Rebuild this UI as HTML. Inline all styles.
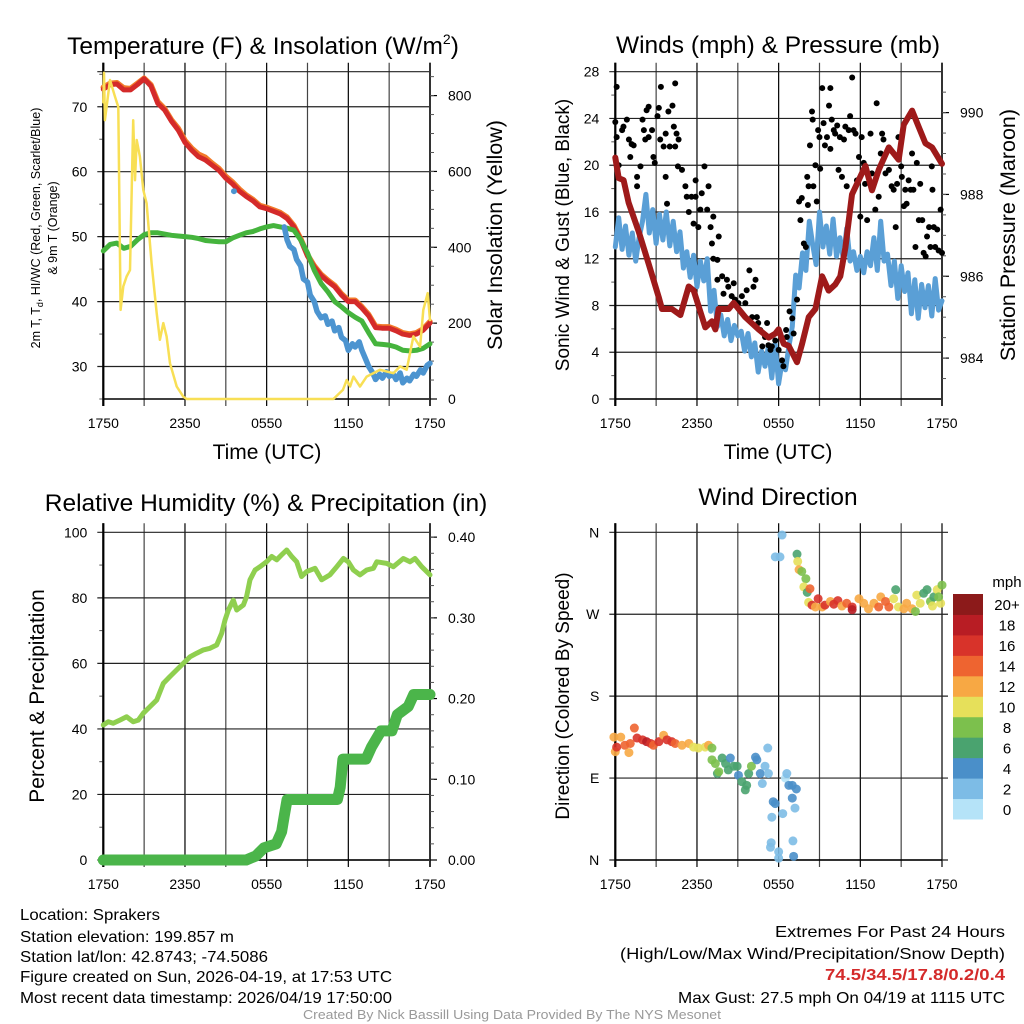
<!DOCTYPE html>
<html><head><meta charset="utf-8"><style>
html,body{margin:0;padding:0;background:#fff;}
svg{display:block;font-family:"Liberation Sans",sans-serif;}
</style></head><body>
<svg id="fig" width="1024" height="1024" viewBox="0 0 1024 1024" xmlns="http://www.w3.org/2000/svg">
<g id="layer"></g>
<g font-size="16" fill="#000">
<text x="20" y="920" textLength="140" lengthAdjust="spacingAndGlyphs">Location: Sprakers</text>
<text x="20" y="942" textLength="214" lengthAdjust="spacingAndGlyphs">Station elevation: 199.857 m</text>
<text x="20" y="962" textLength="248" lengthAdjust="spacingAndGlyphs">Station lat/lon: 42.8743; -74.5086</text>
<text x="20" y="982" textLength="372" lengthAdjust="spacingAndGlyphs">Figure created on Sun, 2026-04-19, at 17:53 UTC</text>
<text x="20" y="1003" textLength="372" lengthAdjust="spacingAndGlyphs">Most recent data timestamp: 2026/04/19 17:50:00</text>
<text x="1005" y="937" text-anchor="end" textLength="230" lengthAdjust="spacingAndGlyphs">Extremes For Past 24 Hours</text>
<text x="1005" y="959" text-anchor="end" textLength="385" lengthAdjust="spacingAndGlyphs">(High/Low/Max Wind/Precipitation/Snow Depth)</text>
<text x="1005" y="980" text-anchor="end" fill="#d42a2a" font-weight="bold" textLength="180" lengthAdjust="spacingAndGlyphs">74.5/34.5/17.8/0.2/0.4</text>
<text x="1005" y="1003" text-anchor="end" textLength="327" lengthAdjust="spacingAndGlyphs">Max Gust: 27.5 mph On 04/19 at 1115 UTC</text>
<text x="512" y="1019" text-anchor="middle" font-size="13" fill="#999" textLength="418" lengthAdjust="spacingAndGlyphs">Created By Nick Bassill Using Data Provided By The NYS Mesonet</text>
</g>
</svg>
<script>
// ---------- DATA ----------
const xTickHours=[0,6,12,18,24];
const xTickLabels=["1750","2350","0550","1150","1750"];
// Temperature panel
const tempHr=[0,0.5,1,1.5,2,2.5,3,3.5,4,4.5,5,5.5,6,6.5,7,7.5,8,8.5,9,9.5,10,10.5,11,11.5,12,12.5,13,13.5,14,14.5,15,15.5,16,16.5,17,17.5,18,18.5,19,19.5,20,20.5,21,21.5,22,22.5,23,23.5,24];
const tempVal=[72.7,73.4,73.5,72.6,72.6,73.4,74.3,73.2,70.5,69.5,67.8,66.4,64.5,63.3,62.3,61.8,61,60.2,59,58.1,57,56.2,55.5,54.6,54.3,53.9,53.5,52.8,51.5,49.5,47,45.3,44,43.1,42.3,41,40,40,39,37.8,36,35.9,35.9,35.5,35,34.8,35,35.6,36.7];
const temp9mVal=[73,73.6,73.7,72.9,72.8,73.6,74.4,73.4,70.8,69.7,68,66.7,64.8,63.6,62.7,62.2,61.3,60.5,59.3,58.4,57.3,56.4,55.7,54.8,54.5,54.1,53.7,53,51.7,49.7,47.2,45.5,44.2,43.3,42.5,41.2,40.2,40.2,39.2,38,36.2,36.1,36.1,35.7,35.2,35,35.2,35.8,36.9];
const dewVal=[47.8,48.8,49,48.2,48.5,49.5,50.3,50.6,50.6,50.4,50.2,50.1,50,49.9,49.7,49.4,49.3,49.2,49.2,49.8,50.2,50.6,50.8,51.2,51.5,51.7,51.5,51.3,51,49.5,47.5,44.8,42.8,41.5,40,39.2,38.3,37.6,37,35.2,33.5,33.4,33.3,33,32.5,32.4,32.5,32.8,33.5];
const chillHr=[13.3,13.5,13.7,14,14.2,14.5,14.7,15,15.2,15.5,15.7,16,16.3,16.5,16.8,17,17.3,17.5,17.8,18,18.3,18.5,18.8,19,19.3,19.5,19.8,20,20.3,20.5,20.8,21,21.3,21.5,21.8,22,22.3,22.5,22.8,23,23.3,23.5,23.8,24];
const chillVal=[51.5,49.5,48.5,48,46.5,45.5,43.5,43,41,40,38.5,37.5,37.8,36.5,37,35.5,36,34.5,34,32.5,33.5,33,33.8,32.5,31,30,29,28,28.8,28.2,29.2,28.5,28.8,28,29,27.5,28.2,27.8,28.8,28.5,29.5,29,30.2,30.5];
const solarHr=[0,0.05,0.12,0.49,0.86,1.1,1.27,1.47,1.71,1.96,2.2,2.33,2.45,2.69,2.94,3.18,3.55,3.92,4.16,4.41,4.65,4.9,5.39,5.88,6.12,12,16.9,17.6,17.88,18.13,18.37,18.86,19.35,20.33,21.31,21.8,22.29,22.78,23.27,23.51,23.83,24];
const solarVal=[782,860,735,841,797,770,235,297,323,340,735,577,683,639,551,516,358,226,156,200,165,94,33,6,0,0,0,24,50,33,59,33,59,77,68,86,77,165,138,235,279,208];
// Winds panel
const windHr=[0,0.25,0.5,0.75,1,1.25,1.5,1.75,2,2.25,2.5,2.75,3,3.25,3.5,3.75,4,4.25,4.5,4.75,5,5.25,5.5,5.75,6,6.25,6.5,6.75,7,7.25,7.5,7.75,8,8.25,8.5,8.75,9,9.25,9.5,9.75,10,10.25,10.5,10.75,11,11.25,11.5,11.75,12,12.25,12.5,12.75,13,13.25,13.5,13.75,14,14.25,14.5,14.75,15,15.25,15.5,15.75,16,16.25,16.5,16.75,17,17.25,17.5,17.75,18,18.25,18.5,18.75,19,19.25,19.5,19.75,20,20.25,20.5,20.75,21,21.25,21.5,21.75,22,22.25,22.5,22.75,23,23.25,23.5,23.75,24];
const windVal=[13,15.5,12.8,14.8,12.3,14.2,11.8,13.8,15.2,17.5,14.2,16.2,13.3,15.8,13.6,16,13.1,15.2,12.6,14.3,11.2,12.6,10.4,12.3,9.6,11.8,10.1,12,7.5,9.3,6.2,7.2,5.4,6.8,5,6.3,5.4,5.8,4.1,5.6,3.6,4.8,2.3,4.1,2.8,4.5,1.8,4.7,1.3,3.2,2.5,4.5,6.2,10.6,9.5,12.5,11,15.2,13.2,11.5,16,13,14.8,12.4,15.4,12.2,13.8,12,14.6,11.8,12.6,11,12.2,10.8,12.6,11.4,13.8,11,15.2,11.8,12.4,9.7,11.8,8.6,11.4,9.2,10.8,7.3,10.2,6.9,9.8,7.8,9.7,7.1,10.3,7.6,8.4];
const pressHr=[0,0.25,0.61,0.98,1.71,2.45,3.18,3.43,4.16,4.78,5.39,5.76,6.61,7.1,7.35,7.59,8.33,8.7,9.55,10.53,11.27,11.76,12,12.37,12.74,13.35,13.72,14.21,14.7,15.19,15.68,16.16,16.53,16.9,17.39,17.88,18.37,18.86,19.35,20.09,20.82,21.19,21.8,22.29,22.78,23.27,24];
const pressVal=[988.9,988.4,988.35,987.8,987.1,986.3,985.5,985.2,985.2,985.05,985.75,985.65,984.75,984.9,984.7,985.2,985.2,985.35,985,984.7,984.5,984.6,984.7,984.35,984.3,983.9,984.35,985,985.2,986,985.65,985.8,986,986.7,988,988.35,988.7,988.1,988.6,989.15,988.85,989.7,990.05,989.65,989.25,989.15,988.75];
const gustHr=[0,0.1,0.1,0.25,0.5,0.6,0.85,1,1.1,1.2,1.35,1.6,1.6,1.85,2,2.1,2.2,2.3,2.45,2.45,2.7,2.8,2.9,3.1,3.2,3.3,3.35,3.55,3.7,3.7,3.8,3.9,4,4.2,4.3,4.4,4.4,4.5,4.65,4.6,4.9,5.15,5.25,5.4,5.6,5.75,5.9,5.9,6.1,6.25,6.35,6.55,6.75,6.85,7,7.2,7.1,7.2,7.5,7.6,7.5,7.85,7.95,8.2,8.3,8.55,8.7,8.8,9.05,9.3,9.55,9.65,9.85,10.05,10.15,10.3,10.4,10.5,10.65,10.8,11,11.15,11.25,11.4,11.5,11.75,12,12.25,12.35,12.55,12.6,12.8,13,13.1,13.35,13.5,13.6,13.7,13.85,14,14.1,14.15,14.2,14.3,14.45,14.5,14.55,14.7,14.8,14.9,15,15.05,15.2,15.3,15.4,15.55,15.7,15.8,15.8,15.9,16.05,16.15,16.3,16.4,16.5,16.65,16.8,16.9,17,17.15,17.25,17.4,17.5,17.65,17.75,17.9,18,18.1,18.25,18.35,18.5,18.75,18.85,19.1,19.2,19.35,19.5,19.6,19.7,19.85,20.1,20.3,20.45,20.6,20.7,20.8,21,21.05,21.2,21.3,21.4,21.55,21.7,21.8,21.9,22.05,22.15,22.3,22.4,22.55,22.65,22.8,22.9,23.05,23.15,23.25,23.3,23.4,23.5,23.65,23.75,23.9,24];
const gustVal=[23.7,26.7,22.4,20,23,23.3,23.9,22.2,20.7,21.8,21.7,19,18.2,19.9,23.9,23,22.2,24.7,25,22.4,23,20.7,20.2,24.2,24.9,22.2,26.7,21.6,22.7,19,16.7,24.6,21.6,25.1,23.3,27,21.6,22.7,22.2,19.9,19.6,18.2,17.3,16,17.3,15,18.7,17.3,14.7,16.2,17.6,19.9,16.2,18.2,14.7,15.6,13.3,12,11.9,13.9,10.2,10.5,9,10.2,9.6,8.8,9.9,8.5,8.2,8.8,8.2,9.3,11,7,9.6,10.2,7,6.5,5.9,4.5,5.3,6.5,4.6,4.2,4.5,5,4.2,3.3,2.8,5.9,5.3,7.5,6.9,5.6,8.5,16.9,15.3,17.2,13.3,13,19,16.6,18.2,21.7,24.6,23.9,18.2,20,16.9,23,22.4,19.7,26.6,23.6,21.7,22.4,25.1,26.6,21.4,23.9,23,22.7,23.4,19.6,22.4,19,22.2,23.3,18.2,23,24.2,27.5,23,22.7,18.7,20.7,15.6,22.4,20.2,18.4,15.3,22.7,19.3,16.2,25.3,17.3,21,22.7,22.2,19.3,19.6,18.2,17.9,14.7,18.4,22.4,19.9,19,16.5,17.9,16.7,18.7,17.9,21,17.9,13,20.2,15.3,18.4,15.3,12.5,12.2,13.9,14.7,13,19.9,17.9,14.7,13,14.5,12.7,16.2,12.5];
// RH & precip panel
const rhHr=[0,0.37,0.73,1.22,1.71,2.2,2.57,2.94,3.43,3.92,4.41,4.9,5.39,5.88,6.37,6.86,7.35,7.84,8.33,8.7,8.94,9.19,9.55,9.8,10.29,10.53,10.78,11.15,11.51,12,12.37,12.74,13.1,13.47,13.84,14.21,14.57,14.94,15.55,16.04,16.65,17.15,17.64,18,18.37,18.86,19.35,19.84,20.09,20.82,21.31,22.04,22.53,22.9,23.39,24];
const rhVal=[41.2,42.2,41.7,42.7,43.7,42.2,42.7,44.8,46.8,48.8,53.9,56,58,60,62,63.1,64.1,64.6,65.6,69.2,73.2,76.3,79.3,76.3,77.8,80.4,85.5,88.5,89.5,91,92.6,91.6,93.1,94.6,92.6,91,86.5,88,89,85.5,87,89.5,92,91,88.5,87,88.5,89,91,90.5,89.5,92,91,92,89.5,87];
const precipHr=[0,10.5,11.2,11.8,12.7,13.1,13.3,13.5,14,17.2,17.4,17.6,19.3,19.7,20.4,21.2,21.6,22.4,22.8,24];
const precipVal=[0,0,0.005,0.015,0.02,0.035,0.055,0.075,0.075,0.075,0.09,0.125,0.125,0.14,0.16,0.16,0.18,0.19,0.205,0.205];
// Wind direction panel
const dirHr=[-0.1,0,0.1,0.4,0.7,1,1.1,1.4,1.6,2,2.3,2.6,2.8,3.2,3.55,3.8,4.15,4.4,4.9,5.4,5.75,6.1,6.6,6.85,7.1,7.1,7.35,7.5,7.6,7.85,8.1,8.3,8.45,8.7,8.95,9.05,9.3,9.55,9.65,9.8,10,10.3,10.4,10.65,10.8,11,11.2,11.25,11.6,11.75,11.5,11.45,11.4,12,12,12.3,12.5,12.6,12.75,13,13,13.3,13.2,13.05,13.1,11.75,12.1,12.25,13.35,13.4,13.5,13.7,14,13.85,14.1,14.3,14.2,14.45,14.7,14.9,15.2,15.4,15.8,16.05,16.35,16.65,17,17.4,17.4,17.9,18.25,18.6,19,19.35,19.5,19.85,20.1,20.45,20.6,20.8,21.2,21.4,21.8,22.05,22.15,22.4,22.65,22.9,23.15,23.3,23.4,23.65,23.9,24,23.75];
const dirDeg=[135,119,124,135,126,118,128,145,134,132,130,128,126,130,137,132,130,128,126,128,124,123,124,126,123,110,106,95,97,112,106,99,112,103,103,93,86,77,82,95,103,113,110,95,84,103,123,95,64,62,47,19,14,9,2,51,90,95,82,82,68,78,57,21,4,333,333,357,336,328,319,317,309,300,294,298,283,280,278,287,278,280,284,281,285,279,282,278,275,287,282,276,282,278,289,284,278,287,297,278,276,282,276,273,291,282,293,297,284,279,289,297,282,302,289];
const dirSpd=[12,12,16,12,14,12,14,14,16,16,18,16,14,16,12,16,16,14,12,12,10,10,10,12,8,8,8,6,8,6,6,6,4,6,6,4,6,6,6,6,8,4,4,4,2,2,2,2,4,4,2,2,2,2,2,2,1,2,4,4,4,4,2,2,4,2,2,2,6,10,12,8,8,10,6,14,10,16,12,16,12,16,12,16,16,12,14,16,18,12,12,12,12,14,12,14,14,10,6,10,12,12,12,8,10,10,6,6,8,10,6,10,10,8,8];
const cbarColors=["#b5e3f8","#7dbce6","#4a8fc9","#4aa36f","#7cc04d","#e6e05a","#f7a844","#ee6430","#d8332a","#b81d24","#8c1a1a"];
const cbarLabels=["0","2","4","6","8","10","12","14","16","18","20+"];

// ---------- DRAWING ----------
const NS="http://www.w3.org/2000/svg";
const root=document.getElementById('layer');
function mk(tag,attrs,parent){const e=document.createElementNS(NS,tag);for(const k in attrs)e.setAttribute(k,attrs[k]);(parent||root).appendChild(e);return e;}
function lin(d0,d1,r0,r1){return v=>r0+(v-d0)*(r1-r0)/(d1-d0);}
function txt(x,y,s,size,anchor,parent,rot){const e=mk('text',{x:x,y:y,'font-size':size,'text-anchor':anchor||'middle'},parent);if(rot)e.setAttribute('transform','rotate(-90 '+x+' '+y+')');e.textContent=s;return e;}

function frame(p){
  const g=mk('g',{});
  
  
  for(let h=0;h<=24;h+=3){const x=p.x(h);
    const l=mk('line',{x1:x,x2:x,y1:p.top-9,y2:p.bot+7,stroke:(h%6===0?'#000':'#444'),'stroke-width':(h===0?2:1.2)},g);
    }
  xTickHours.forEach((h,i)=>{const t=txt(p.x(h),p.bot+29,xTickLabels[i],14,'middle',g);
    });
  p.lTicks.forEach(v=>{const y=p.y(v);
    const l=mk('line',{x1:p.left-6,x2:p.right+(p.hgridExt||0),y1:y,y2:y,stroke:'#222','stroke-width':1.2},g);
    
    const t=txt(p.left-16,y+5,p.lFmt(v),14,'end',g);
    });
  (p.lMinor||[]).forEach(v=>{const y=p.y(v);mk('line',{x1:p.left-4,x2:p.left,y1:y,y2:y,stroke:'#555','stroke-width':1},g);});
  if(p.topLine){mk('line',{x1:p.left-6,x2:p.right,y1:p.top,y2:p.top,stroke:'#222','stroke-width':1.2},g);}
  mk('line',{x1:p.left,x2:p.left,y1:p.top-9,y2:p.bot+7,stroke:'#000','stroke-width':2},g);
  mk('line',{x1:p.left,x2:p.right,y1:p.bot,y2:p.bot,stroke:'#000','stroke-width':1.5},g);
  if(p.ry){
    mk('line',{x1:p.right,x2:p.right,y1:p.top-9,y2:p.bot+7,stroke:'#333','stroke-width':2},g);
    p.rTicks.forEach(v=>{const y=p.ry(v);mk('line',{x1:p.right,x2:p.right+7,y1:y,y2:y,stroke:'#000','stroke-width':1.2},g);
      const t=txt(p.right+18,y+5,p.rFmt(v),14,'start',g);
      });
    (p.rMinor||[]).forEach(v=>{const y=p.ry(v);mk('line',{x1:p.right,x2:p.right+4,y1:y,y2:y,stroke:'#555','stroke-width':1},g);});
  }
  return g;
}
function poly(xs,ys,fx,fy,color,w,name,op){
  const pts=xs.map((h,i)=>fx(h).toFixed(1)+','+fy(ys[i]).toFixed(1)).join(' ');
  const e=mk('polyline',{points:pts,fill:'none',stroke:color,'stroke-width':w,'stroke-linejoin':'round','stroke-linecap':'round'});
  if(op)e.setAttribute('opacity',op);
  
  
  return e;
}
function range(a,b,s){const r=[];for(let v=a;v<=b+1e-9;v+=s)r.push(+v.toFixed(4));return r;}
function named(t,n){return t;}

// Panel 1: temperature
const p1={name:'temperature',left:103.3,right:430,top:71.7,bot:399};
p1.x=lin(0,24,p1.left,p1.right);p1.y=lin(25,75.4,p1.bot,p1.top);p1.ry=lin(0,863,p1.bot,p1.top);
p1.lTicks=[30,40,50,60,70];p1.lFmt=v=>String(v);p1.lMinor=[25,35,45,55,65,75];
p1.rTicks=[0,200,400,600,800];p1.rFmt=v=>String(v);p1.rMinor=range(50,850,50);p1.topLine=true;
frame(p1);
poly(tempHr,temp9mVal,p1.x,p1.y,'#f27a2a',5.5,'series-9m-temp');
poly(tempHr,tempVal,p1.x,p1.y,'#d42a2a',5,'series-2m-temp');
poly(tempHr,dewVal,p1.x,p1.y,'#45b43d',5,'series-dewpoint');
poly(chillHr,chillVal,p1.x,p1.y,'#4c94d0',5.5,'series-wind-chill');
poly(solarHr,solarVal,p1.x,p1.ry,'#f8df55',2.5,'series-solar');
named(mk('circle',{cx:p1.x(9.6),cy:p1.y(57),r:3,fill:'#4c94d0'}),'wind-chill-point');
{const t=named(mk('text',{x:263,y:54,'font-size':24.5,'text-anchor':'middle'}),'temperature-title');
 t.appendChild(document.createTextNode('Temperature (F) & Insolation (W/m'));
 const s=mk('tspan',{'font-size':14,dy:-10},t);s.textContent='2';const s2=mk('tspan',{dy:10},t);s2.textContent=')';}
{const t=named(mk('text',{x:40,y:228,'font-size':12.5,'text-anchor':'middle',transform:'rotate(-90 40 228)'}),'temperature-y-title');
 t.appendChild(document.createTextNode('2m T, T'));const s=mk('tspan',{'font-size':9,dy:3},t);s.textContent='d';
 const s2=mk('tspan',{dy:-3},t);s2.textContent=', HI/WC (Red, Green, Scarlet/Blue)';}
named(txt(57,228,'& 9m T (Orange)',12.5,'middle',null,true),'temperature-y-title-2');
named(txt(502,235,'Solar Insolation (Yellow)',21.5,'middle',null,true),'solar-y-title');
named(txt(267,459,'Time (UTC)',21,'middle'),'temperature-x-title');

// Panel 2: winds
const p2={name:'winds',left:615.3,right:942,top:71.7,bot:399};
p2.x=lin(0,24,p2.left,p2.right);p2.y=lin(0,28,p2.bot,p2.top);p2.ry=lin(983,991,p2.bot,p2.top);
p2.lTicks=[0,4,8,12,16,20,24,28];p2.lFmt=v=>String(v);p2.lMinor=range(2,26,4);
p2.rTicks=[984,986,988,990];p2.rFmt=v=>String(v);p2.rMinor=range(983.5,990.5,0.5);
frame(p2);
poly(windHr,windVal,p2.x,p2.y,'#5a9fd6',5,'series-sonic-wind');
{const g=named(mk('g',{}),'gust-points');
 gustHr.forEach((h,i)=>{const c=mk('circle',{cx:p2.x(h),cy:p2.y(gustVal[i]),r:3,fill:'#000'},g);
  });}
poly(pressHr,pressVal,p2.x,p2.ry,'#9e1a1a',6,'series-pressure');
named(txt(778,53,'Winds (mph) & Pressure (mb)',24.5,'middle'),'winds-title');
named(txt(569,235,'Sonic Wind & Gust (Blue, Black)',19,'middle',null,true),'winds-y-title');
named(txt(1015,235,'Station Pressure (Maroon)',21.5,'middle',null,true),'pressure-y-title');
named(txt(778,459,'Time (UTC)',21,'middle'),'winds-x-title');

// Panel 3: RH
const p3={name:'humidity',left:103.3,right:430,top:532.3,bot:860};
p3.x=lin(0,24,p3.left,p3.right);p3.y=lin(0,100,p3.bot,p3.top);p3.ry=lin(0,0.406,p3.bot,p3.top);
p3.lTicks=[0,20,40,60,80,100];p3.lFmt=v=>String(v);p3.lMinor=range(10,90,20);
p3.rTicks=[0,0.1,0.2,0.3,0.4];p3.rFmt=v=>v.toFixed(2);p3.rMinor=range(0.02,0.4,0.02);
frame(p3);
poly(rhHr,rhVal,p3.x,p3.y,'#8fcf4f',5,'series-rh');
poly(precipHr,precipVal,p3.x,p3.ry,'#4bb54a',11,'series-precip');
named(txt(266,511,'Relative Humidity (%) & Precipitation (in)',24.5,'middle'),'humidity-title');
named(txt(44,696,'Percent & Precipitation',21,'middle',null,true),'humidity-y-title');

// Panel 4: wind direction
const p4={name:'direction',left:615.3,right:942,top:532.3,bot:860,hgridExt:6};
p4.x=lin(0,24,p4.left,p4.right);p4.y=lin(0,360,p4.bot,p4.top);
p4.lTicks=[0,90,180,270,360];const dirNames={0:'N',90:'E',180:'S',270:'W',360:'N'};p4.lFmt=v=>dirNames[v];p4.lMinor=[];
frame(p4);
{const g=named(mk('g',{}),'direction-points');
 dirHr.forEach((h,i)=>{const ci=Math.min(10,Math.floor(dirSpd[i]/2));
  const c=mk('circle',{cx:p4.x(h),cy:p4.y(dirDeg[i]),r:4.5,fill:cbarColors[ci],opacity:0.9},g);
  });}
named(txt(778,505,'Wind Direction',24.5,'middle'),'direction-title');
named(txt(569,696,'Direction (Colored By Speed)',19,'middle',null,true),'direction-y-title');
{const g=named(mk('g',{}),'speed-colorbar');
 const cbTop=594,cbBot=819,n=cbarColors.length,hh=(cbBot-cbTop)/n;
 cbarColors.forEach((c,i)=>{const y=cbBot-(i+1)*hh;
  const r=mk('rect',{x:953,y:y,width:30,height:hh+0.5,fill:c},g);
  
  const t=txt(1007,y+hh/2+6,cbarLabels[i],15,'middle',g);
  });
 named(txt(1007,587,'mph',15,'middle',g),'colorbar-unit');}
</script>
</body></html>
